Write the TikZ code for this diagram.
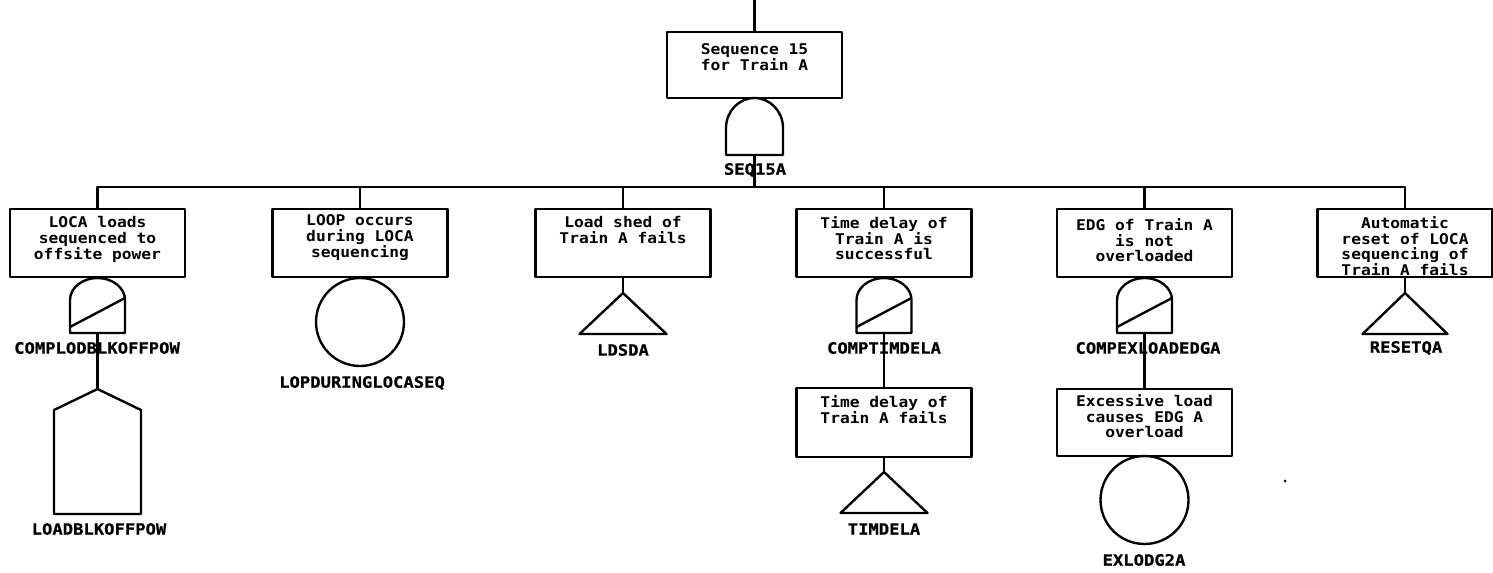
\documentclass[tikz,border=0pt]{standalone}
\usepackage{fontspec}
\usetikzlibrary{calc}
\newfontfamily\plotfont[FakeStretch=1.1]{DejaVu Sans Mono}
\newfontfamily\tagfont[FakeStretch=1.1,FakeBold=0.6]{DejaVu Sans Mono}
\begin{document}
\begin{tikzpicture}[x=0.02cm,y=0.02cm,line width=1.35pt,line join=round,
  evbox/.style={draw,minimum width=3.5cm,minimum height=1.36cm,inner sep=0pt},
  boxtext/.style={font=\plotfont\bfseries\fontsize{8.4}{9.1}\selectfont,align=center,inner sep=0pt,anchor=north},
  gatelabel/.style={font=\tagfont\bfseries\fontsize{8.9}{9}\selectfont,inner sep=0pt},
  frame/.style={draw=none,inner sep=0pt,outer sep=0pt},
  basic/.style={draw,circle,minimum size=1.76cm,inner sep=0pt}]
\useasboundingbox (0,0) rectangle (1493,-572);

% top event
\node[evbox,minimum height=1.32cm] (top) at (754.5,-65) {};
\node[boxtext] (topt) at ($(top.north)+(0,-12)$) {Sequence 15\\for Train A};
\coordinate (feed) at (754.5,0);
\draw (feed) -- (top.north);

% AND gate under the top event
\node[frame,minimum width=1.14cm,minimum height=1.14cm] (gSEQ) at (754.5,-126.5) {};
\draw (gSEQ.south west) -- ++(0,27) arc[start angle=180,end angle=0,x radius=0.57cm,y radius=0.6cm] -- (gSEQ.south east) -- cycle;
\node[gatelabel] (lSEQ) at (755,-170) {SEQ15A};

% second-level events
\node[evbox] (b1) at (97.5,-243) {};
\node[evbox] (b2) at (360,-243) {};
\node[evbox] (b3) at (623,-243) {};
\node[evbox] (b4) at (884,-243) {};
\node[evbox] (b5) at (1144.5,-243) {};
\node[evbox] (b6) at (1405,-243) {};
\node[boxtext] (b1t) at ($(b1.north)+(0,-7)$) {LOCA loads\\sequenced to\\offsite power};
\node[boxtext] (b2t) at ($(b2.north)+(0,-6)$) {LOOP occurs\\during LOCA\\sequencing};
\node[boxtext] (b3t) at ($(b3.north)+(0,-7)$) {Load shed of\\Train A fails};
\node[boxtext] (b4t) at ($(b4.north)+(0,-7)$) {Time delay of\\Train A is\\successful};
\node[boxtext] (b5t) at ($(b5.north)+(0,-9)$) {EDG of Train A\\is not\\overloaded};
\node[boxtext] (b6t) at ($(b6.north)+(0,-7)$) {Automatic\\reset of LOCA\\sequencing of\\Train A fails};

% gate output bus
\coordinate (bus) at (0,-187);
\draw (gSEQ.south) -- (gSEQ.south |- bus);
\draw (b1.north) |- (b6.north |- bus) -- (b6.north);
\foreach \n in {b2,b3,b4,b5} \draw (\n.north) -- (\n.north |- bus);

% complement gates
\node[frame,minimum width=1.1cm,minimum height=1.1cm] (gC1) at (97.5,-305.5) {};
\node[frame,minimum width=1.1cm,minimum height=1.1cm] (gC4) at (884,-305.5) {};
\node[frame,minimum width=1.1cm,minimum height=1.1cm] (gC5) at (1144.5,-305.5) {};
\foreach \g in {gC1,gC4,gC5} {
  \draw (\g.south west) -- ++(0,33) arc[start angle=180,end angle=0,x radius=0.55cm,y radius=0.44cm] -- (\g.south east) -- cycle;
  \draw ($(\g.south west)+(0,6)$) -- ($(\g.south east)+(0,35)$);
}
\node[gatelabel] (lC1) at (97,-348) {COMPLODBLKOFFPOW};
\node[gatelabel] (lC4) at (884,-348) {COMPTIMDELA};
\node[gatelabel] (lC5) at (1148,-348) {COMPEXLOADEDGA};

% house event
\node[frame,minimum width=1.74cm,minimum height=2.5cm] (h1) at (97.5,-451.5) {};
\draw (h1.south west) -- ++(0,104) -- (h1.north) -- ($(h1.south east)+(0,104)$) -- (h1.south east) -- cycle;
\node[gatelabel] (lH1) at (99,-529) {LOADBLKOFFPOW};
\draw (gC1.south) -- (h1.north);

% basic event
\node[basic] (e2) at (360,-322) {};
\node[gatelabel] (lE2) at (362,-383) {LOPDURINGLOCASEQ};

% transfer triangles
\node[frame,minimum width=1.74cm,minimum height=0.82cm] (t3) at (623,-313.5) {};
\node[frame,minimum width=1.7cm,minimum height=0.82cm] (t6) at (1405,-313.5) {};
\node[frame,minimum width=1.74cm,minimum height=0.82cm] (t4) at (884,-492.5) {};
\foreach \t in {t3,t4,t6} \draw (\t.north) -- (\t.south east) -- (\t.south west) -- cycle;
\node[gatelabel] (lT3) at (623,-350) {LDSDA};
\node[gatelabel] (lT6) at (1406,-348) {RESETQA};
\node[gatelabel] (lT4) at (884,-529) {TIMDELA};
\draw (b3.south) -- (t3.north);
\draw (b6.south) -- (t6.north);

% third-level events
\node[evbox,minimum height=1.38cm] (b4b) at (884,-422.5) {};
\node[boxtext] (b4bt) at ($(b4b.north)+(0,-7)$) {Time delay of\\Train A fails};
\draw (gC4.south) -- (b4b.north);
\draw (b4b.south) -- (t4.north);

\node[evbox,minimum height=1.34cm] (b5b) at (1144.5,-422.5) {};
\node[boxtext] (b5bt) at ($(b5b.north)+(0,-5)$) {Excessive load\\causes EDG A\\overload};
\draw (gC5.south) -- (b5b.north);
\node[basic] (e5) at (1144.5,-500) {};
\node[gatelabel] (lE5) at (1144,-560) {EXLODG2A};

% stray plotter dot
\fill (1285,-481) circle[radius=0.03cm];
\end{tikzpicture}
\end{document}
